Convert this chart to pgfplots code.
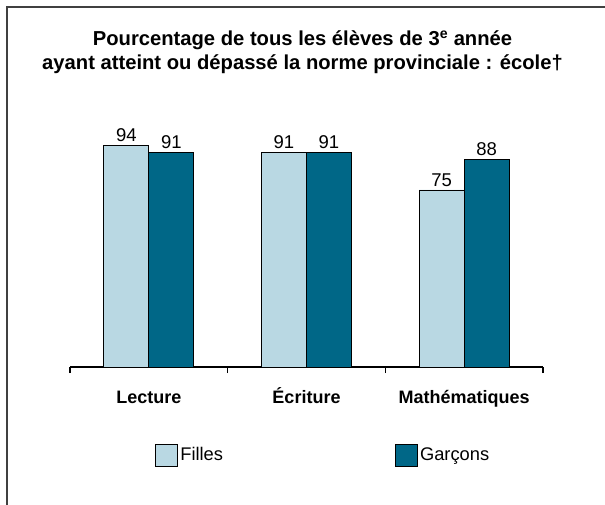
\documentclass[border=0pt]{standalone}
\usepackage{pgfplots}
\pgfplotsset{compat=1.18}
\usepackage{fontspec}
\setmainfont{Liberation Sans}
\definecolor{filles}{HTML}{B9D8E3}
\definecolor{garcons}{HTML}{006787}
\begin{document}
\begin{tikzpicture}
\useasboundingbox (0,0) rectangle (605bp,505bp);
\draw[line width=1.3bp, black!75] (7bp,0bp) -- (7bp,498bp) -- (605bp,498bp);
\node[align=center, font=\bfseries\fontsize{20.2bp}{23.5bp}\selectfont] at (302.5bp,453bp)
  {Pourcentage de tous les élèves de 3\textsuperscript{e} année\\ayant atteint ou dépassé la norme provinciale : école†};
\begin{axis}[
  at={(70bp,138bp)}, anchor=south west,
  scale only axis, width=473bp, height=236bp,
  xmin=-0.5, xmax=2.5, ymin=0, ymax=100,
  axis y line=none, axis x line*=bottom,
  axis line style={black, line width=1.2bp, -},
  xtick={-0.5,0.5,1.5,2.5}, x tick label as interval,
  xticklabels={Lecture,Écriture,Mathématiques},
  tick align=outside, major tick length=6bp,
  tick style={black, line width=1.2bp},
  xticklabel style={font=\bfseries\fontsize{18bp}{20bp}\selectfont, text height=13bp, text depth=4bp, anchor=north, yshift=-14bp},
  /pgf/number format/assume math mode=true,
  ybar=0pt, bar width=45bp,
  nodes near coords,
  every node near coord/.append style={font=\fontsize{18.5bp}{20bp}\selectfont, black},
  legend columns=2,
  legend style={draw=none, fill=none, at={(0.18,-0.373)}, anchor=west, inner sep=0pt,
    font=\fontsize{18.3bp}{20bp}\selectfont,
    /tikz/every even column/.append style={column sep=170bp}},
  legend image code/.code={\draw[#1,draw=black,line width=1bp] (0bp,-11bp) rectangle (22bp,11bp);},
]
\addplot[fill=filles, draw=black, line width=0.9bp] coordinates {(0,94) (1,91) (2,75)};
\addplot[fill=garcons, draw=black, line width=0.9bp] coordinates {(0,91) (1,91) (2,88)};
\legend{Filles,Garçons}
\end{axis}
\end{tikzpicture}
\end{document}
